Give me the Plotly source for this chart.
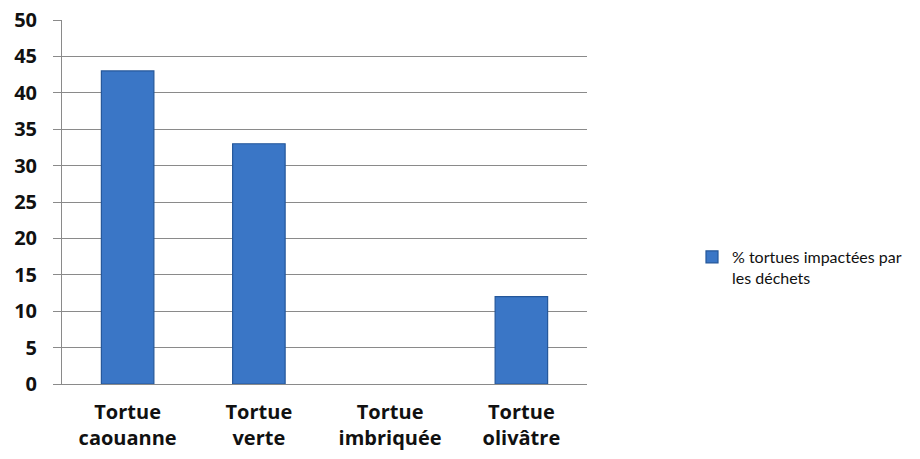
import plotly.graph_objects as go

categories = ["Tortue<br>caouanne", "Tortue<br>verte", "Tortue<br>imbriquée", "Tortue<br>olivâtre"]
values = [43, 33, 0, 12]
series_name = "% tortues impactées par<br>les déchets"
y_ticks = [0, 5, 10, 15, 20, 25, 30, 35, 40, 45, 50]

line_widths = [1.2 if v > 0 else 0 for v in values]

fig = go.Figure()
fig.add_trace(go.Bar(
    x=categories, y=values, name=series_name, showlegend=True,
    marker=dict(color="#3a76c6", line=dict(color="#24579a", width=line_widths)),
))

fig.update_layout(
    width=920, height=459,
    margin=dict(l=62, r=333, t=20, b=75),
    paper_bgcolor="white", plot_bgcolor="white",
    bargap=0.6,
    font=dict(family="Open Sans, sans-serif", color="#111"),
    showlegend=True,
    legend=dict(x=1.2, y=0.32, xanchor="left", yanchor="middle",
                font=dict(size=16, family="Lato, sans-serif", color="#111"),
                valign="top", bgcolor="rgba(0,0,0,0)", itemwidth=30),
    xaxis=dict(showgrid=False, showline=True, linecolor="#8a8a8a", linewidth=1,
               automargin=False,
               ticks="", tickfont=dict(size=20, family="Open Sans, sans-serif", weight="bold", color="#111"),
               ticklabelstandoff=10),
    yaxis=dict(range=[0, 50], tickvals=y_ticks, showgrid=True, gridcolor="#8a8a8a", gridwidth=1,
               automargin=False,
               showline=True, linecolor="#8a8a8a", linewidth=1, ticks="outside", ticklen=8,
               tickcolor="#8a8a8a", zeroline=False,
               tickfont=dict(size=20, family="Open Sans, sans-serif", weight="bold", color="#111"),
               ticklabelstandoff=12),
)
fig.write_html("out.html")
